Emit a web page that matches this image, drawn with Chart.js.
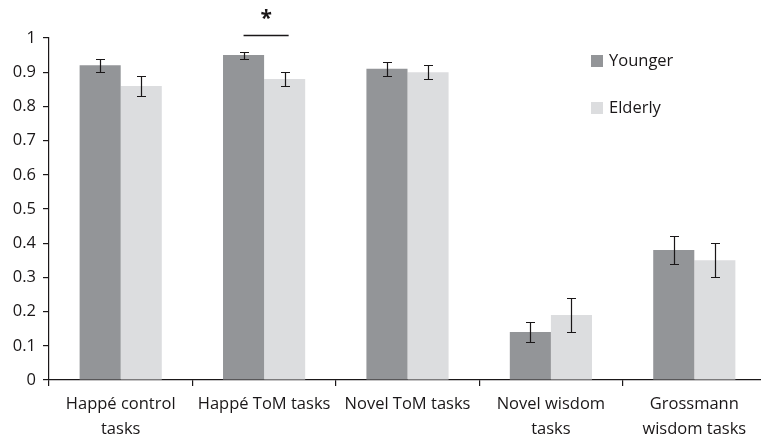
<!DOCTYPE html>
<html lang="en">
<head>
    <meta charset="UTF-8">
    <title>Chart</title>
    <style>
        body { margin: 0; overflow: hidden; background: #fff; }
    </style>
</head>
<body>
    <canvas id="myChart" width="766" height="440"></canvas>

    <script src="https://cdn.jsdelivr.net/npm/chart.js@4"></script>
    <script>
        let labels = [['Happé control', 'tasks'], 'Happé ToM tasks', 'Novel ToM tasks', ['Novel wisdom', 'tasks'], ['Grossmann', 'wisdom tasks']];
        let younger = [0.92, 0.95, 0.91, 0.14, 0.38];
        let elderly = [0.86, 0.88, 0.90, 0.19, 0.35];
        // +/- error for each bar
        let youngerErr = [0.02, 0.01, 0.02, 0.03, 0.04];
        let elderlyErr = [0.03, 0.02, 0.02, 0.05, 0.05];
        let yTickLabels = ['0', '0.1', '0.2', '0.3', '0.4', '0.5', '0.6', '0.7', '0.8', '0.9', '1'];
        let sigIndex = 1; // Happé ToM tasks

        let axisColor = '#1a1718';
        let textColor = '#1a1718';
        let font = { family: 'Open Sans', size: 16.5 };

        // error bars, the * marker and the legend drawn over the bars
        let extras = {
            id: 'extras',
            afterDatasetsDraw(chart) {
                let ctx = chart.ctx;
                let y = chart.scales.y;
                let errs = [youngerErr, elderlyErr];
                ctx.save();
                ctx.strokeStyle = '#1a1718';
                ctx.lineWidth = 1.2;
                chart.data.datasets.forEach((ds, i) => {
                    chart.getDatasetMeta(i).data.forEach((bar, j) => {
                        let v = ds.data[j], e = errs[i][j];
                        let x = Math.round(bar.x) + 0.5;
                        let top = Math.round(y.getPixelForValue(v + e)) + 0.5, bot = Math.round(y.getPixelForValue(v - e)) + 0.5;
                        ctx.beginPath();
                        ctx.moveTo(x, top); ctx.lineTo(x, bot);
                        ctx.moveTo(x - 4.5, top); ctx.lineTo(x + 4.5, top);
                        ctx.moveTo(x - 4.5, bot); ctx.lineTo(x + 4.5, bot);
                        ctx.stroke();
                    });
                });

                // significance line
                let a = chart.getDatasetMeta(0).data[sigIndex];
                let b = chart.getDatasetMeta(1).data[sigIndex];
                let ly = Math.round(y.getPixelForValue(1)) - 2.5;
                ctx.lineWidth = 1.5;
                ctx.beginPath();
                ctx.moveTo(a.x, ly); ctx.lineTo(b.x + 4, ly);
                ctx.stroke();
                ctx.fillStyle = textColor;
                ctx.font = 'bold 21px "Open Sans"';
                ctx.textAlign = 'center';
                ctx.textBaseline = 'middle';
                ctx.fillText('*', (a.x + b.x + 4) / 2, ly - 16);

                // legend
                ctx.font = '16.5px "Open Sans"';
                ctx.textAlign = 'left';
                chart.data.datasets.forEach((ds, i) => {
                    let cy = 61 + i * 47;
                    ctx.fillStyle = ds.backgroundColor;
                    ctx.fillRect(591, cy - 6, 12, 12);
                    ctx.fillStyle = textColor;
                    ctx.fillText(ds.label, 609, cy);
                });
                ctx.restore();
            }
        };

        var ctx = document.getElementById("myChart").getContext('2d');
        var myChart = new Chart(ctx, {
            type: 'bar',
            data: {
                labels: labels,
                datasets: [
                    { label: 'Younger', data: younger, backgroundColor: '#939598' },
                    { label: 'Elderly', data: elderly, backgroundColor: '#dcdddf' }
                ]
            },
            options: {
                responsive: false,
                animation: false,
                layout: { padding: { top: 38, left: 0, right: 0, bottom: 0 } },
                datasets: { bar: { categoryPercentage: 0.573, barPercentage: 1 } },
                plugins: { legend: { display: false }, tooltip: { enabled: false } },
                scales: {
                    x: {
                        grid: { drawOnChartArea: false, tickLength: 6, color: axisColor, tickColor: axisColor, lineWidth: 1.2 },
                        border: { color: axisColor, width: 1.2 },
                        ticks: { color: textColor, font: { family: 'Open Sans', size: 16.5, lineHeight: 1.5 }, padding: 6, maxRotation: 0, autoSkip: false },
                        afterFit(scale) { scale.height = 60; }
                    },
                    y: {
                        min: 0, max: 1,
                        grid: { drawOnChartArea: false, tickLength: 6, color: axisColor, tickColor: axisColor, lineWidth: 1.2 },
                        border: { color: axisColor, width: 1.2 },
                        ticks: {
                            stepSize: 0.1, color: textColor, font: font, padding: 7,
                            callback: (v, i) => yTickLabels[i]
                        },
                        afterFit(scale) { scale.width = 49; }
                    }
                }
            },
            plugins: [extras]
        });
    </script>
</body>
</html>
